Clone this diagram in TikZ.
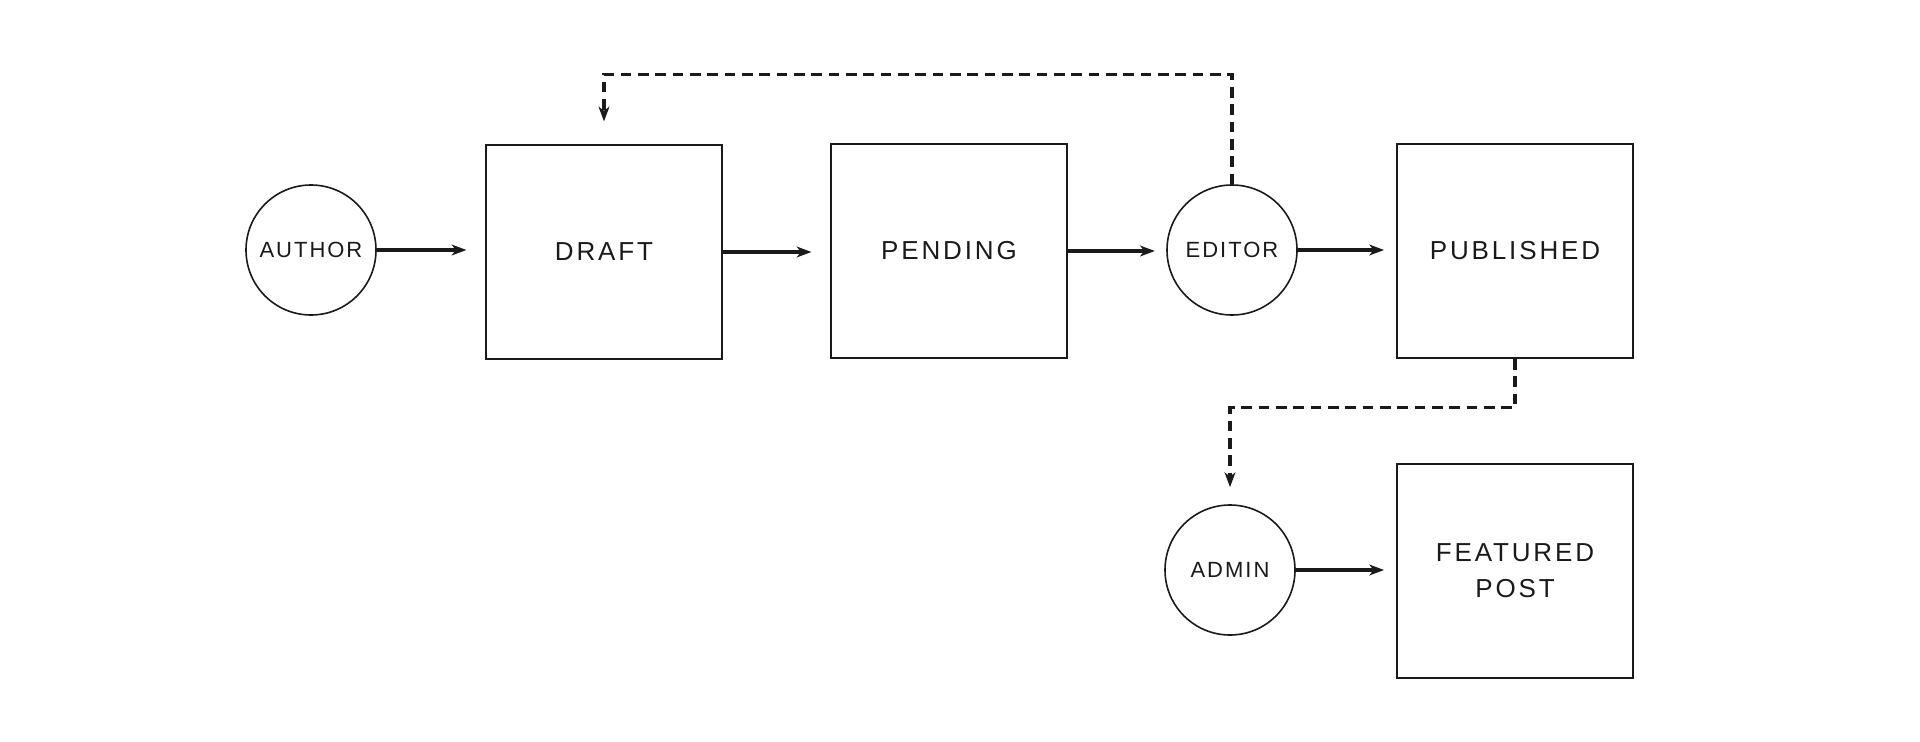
\documentclass[tikz,border=0pt]{standalone}
\usepackage{fontspec}
\setmainfont{Liberation Sans}
\newfontfamily\boxfont[LetterSpace=11]{Liberation Sans}
\newfontfamily\circfont[LetterSpace=9]{Liberation Sans}
\usetikzlibrary{arrows.meta}
\definecolor{ink}{HTML}{1A1A1A}
\tikzset{
  statebox/.style={draw=ink, line width=1.3pt, minimum width=177pt, minimum height=160.5pt,
    inner sep=0pt, text=ink, font=\boxfont\fontsize{19.5}{26}\selectfont, align=center},
  actor/.style={draw=ink, line width=1.2pt, circle, minimum size=97.5pt, inner sep=0pt,
    text=ink, font=\circfont\fontsize{16.5}{18}\selectfont},
  flow/.style={draw=ink, line width=2.4pt, -{Stealth[length=11pt,width=8pt,inset=3pt]},
    shorten >=14pt},
  dflow/.style={draw=ink, line width=2.3pt, dash pattern=on 8pt off 5pt,
    -{Stealth[length=11pt,width=8pt,inset=3pt]}, shorten >=14pt}
}
\begin{document}
\begin{tikzpicture}[x=0.75pt,y=-0.75pt]
\useasboundingbox (0,0) rectangle (1920,742);
\node[actor] (author) at (311,250) {AUTHOR};
\node[statebox] (draft) at (604,252) {DRAFT};
\node[statebox] (pending) at (949,251) {PENDING};
\node[actor] (editor) at (1232,250) {EDITOR};
\node[statebox] (published) at (1515,251) {PUBLISHED};
\node[actor] (admin) at (1230,570) {ADMIN};
\node[statebox] (featured) at (1515,571) {FEATURED\\[1pt]POST};

\draw[flow] (author.east) -- (author.east -| draft.west);
\draw[flow] (draft.east) -- (draft.east -| pending.west);
\draw[flow, shorten >=8.5pt] (pending.east) -- (pending.east -| editor.west);
\draw[flow, shorten >=9pt] (editor.east) -- (editor.east -| published.west);
\draw[flow, shorten >=9pt] (admin.east) -- (admin.east -| featured.west);

\draw[dflow, shorten >=17pt] (editor.north) -- ++(0,-110) -| (draft.north);
\draw[dflow, shorten >=12.75pt] (published.south) -- ++(0,49) -| (admin.north);
\end{tikzpicture}
\end{document}
